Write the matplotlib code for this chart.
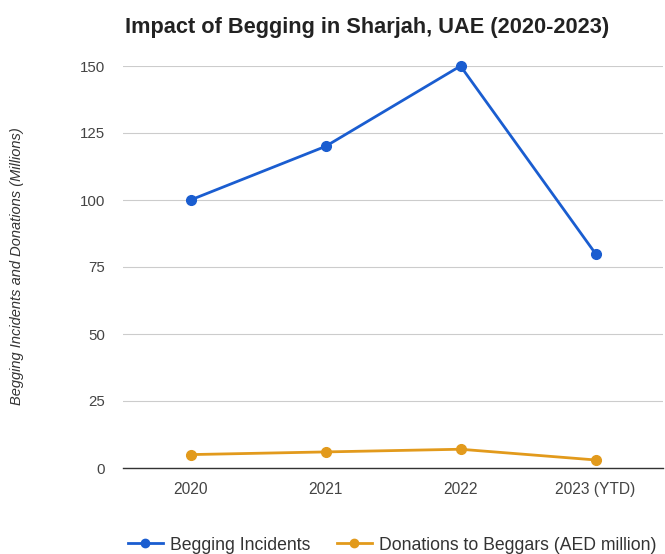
import matplotlib
matplotlib.use("Agg")
import matplotlib.pyplot as plt
from matplotlib.lines import Line2D

plt.rcParams['font.family'] = ['Liberation Sans', 'DejaVu Sans']

categories = ["2020", "2021", "2022", "2023 (YTD)"]
incidents = [100, 120, 150, 80]
donations = [5, 6, 7, 3]
yticks = [0, 25, 50, 75, 100, 125, 150]

blue = "#1a5dd0"
orange = "#e29a1c"

fig = plt.figure(figsize=(6.65, 5.54), dpi=100)
ax = fig.add_axes([123/665, 1-468/554, 540/665, (468-66)/554])

x = list(range(len(categories)))
ax.plot(x, incidents, color=blue, lw=2, marker='o', ms=7, label="Begging Incidents", zorder=3, clip_on=False)
ax.plot(x, donations, color=orange, lw=2, marker='o', ms=7, label="Donations to Beggars (AED million)", zorder=3, clip_on=False)

ax.set_xlim(-0.5, len(categories)-0.5)
ax.set_ylim(0, 150)
ax.set_yticks(yticks)
ax.set_xticks(x)
ax.set_xticklabels(categories)
ax.tick_params(axis='both', length=0, labelsize=10.8, colors='#444444')
ax.tick_params(axis='x', labelsize=11.2, pad=10)
ax.tick_params(axis='y', pad=13)
ax.grid(axis='y', color='#cccccc', lw=0.8)
ax.set_axisbelow(True)
for s in ['top', 'right', 'left']:
    ax.spines[s].set_visible(False)
ax.spines['bottom'].set_color('#333333')
ax.spines['bottom'].set_linewidth(1)

fig.text(125/665, 1-28/554, "Impact of Begging in Sharjah, UAE (2020-2023)",
         fontsize=15.7, fontweight='bold', ha='left', va='center', color='#222222')
fig.text(17/665, 1-266/554, "Begging Incidents and Donations (Millions)",
         fontsize=10.5, style='italic', rotation=90, ha='center', va='center', color='#333333')

handles = [Line2D([0], [0], color=blue, lw=2, marker='o', ms=6),
           Line2D([0], [0], color=orange, lw=2, marker='o', ms=6)]
fig.legend(handles, ["Begging Incidents", "Donations to Beggars (AED million)"],
           loc='center', bbox_to_anchor=(392/665, 1-545/554), ncol=2, frameon=False,
           fontsize=12.7, handlelength=2.0, columnspacing=1.5, handletextpad=0.4,
           labelcolor='#333333')

fig.savefig("out.png", dpi=100)
